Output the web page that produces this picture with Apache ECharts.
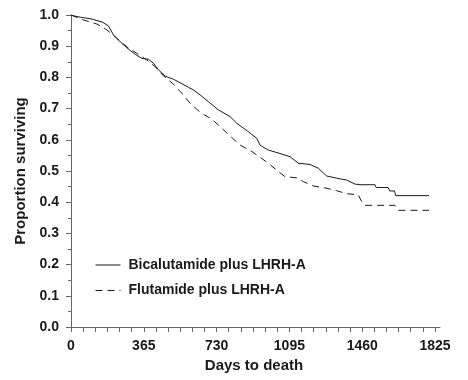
<!DOCTYPE html>
<html><head><meta charset="utf-8">
<script src="https://cdn.jsdelivr.net/npm/echarts@6/dist/echarts.min.js"></script>
<style>html,body{margin:0;padding:0;background:#fff}#c{width:468px;height:380px}</style>
</head><body><div id="c"></div>
<script>
const seriesNames = ['Bicalutamide plus LHRH-A', 'Flutamide plus LHRH-A'];
const bicalutamide = [[0,1.0],[15,0.997],[46,0.993],[105,0.987],[130,0.982],[155,0.978],[188,0.965],[213,0.936],[247,0.914],[280,0.895],[322,0.874],[355,0.861],[389,0.858],[414,0.845],[439,0.824],[472,0.804],[514,0.794],[547,0.783],[589,0.768],[614,0.760],[647,0.744],[689,0.722],[739,0.696],[798,0.674],[831,0.653],[889,0.626],[931,0.605],[948,0.583],[973,0.573],[990,0.567],[1048,0.556],[1098,0.546],[1140,0.525],[1198,0.521],[1240,0.509],[1282,0.484],[1332,0.477],[1382,0.471],[1424,0.458],[1449,0.456],[1524,0.456],[1530,0.447],[1590,0.447],[1598,0.436],[1622,0.436],[1628,0.421],[1795,0.421]];
const flutamide = [[0,1.0],[5,0.995],[63,0.984],[130,0.971],[180,0.952],[230,0.925],[280,0.898],[330,0.877],[380,0.856],[422,0.834],[464,0.805],[514,0.778],[556,0.749],[597,0.717],[650,0.687],[706,0.666],[748,0.642],[798,0.612],[848,0.583],[898,0.566],[939,0.548],[989,0.525],[1040,0.498],[1073,0.482],[1132,0.478],[1165,0.466],[1215,0.452],[1273,0.446],[1332,0.437],[1382,0.427],[1440,0.424],[1457,0.402],[1474,0.39],[1624,0.39],[1640,0.374],[1795,0.374]];
const xLabels = [0, 365, 730, 1095, 1460, 1825];
const xTicks = [0,1,2,3,4,5,6,7,8,9,10,11,12,13,14,15,16,17,18,19,20,21,22,23,24,25,26,27,28,29,30].map(i => i * 365 / 6);

const font = 'Liberation Sans, Arial, Helvetica, sans-serif';
const chart = echarts.init(document.getElementById('c'), null, {renderer: 'canvas'});
chart.setOption({
  animation: false,
  grid: {left: 68, right: 28, top: 15, bottom: 53},
  legend: {
    orient: 'vertical', left: 95, top: 258, padding: 0,
    itemWidth: 25, itemHeight: 14, itemGap: 11.5,
    itemStyle: {color: 'transparent', borderColor: 'transparent', borderWidth: 0, opacity: 0},
    lineStyle: {width: 1},
    textStyle: {fontFamily: font, fontWeight: 'bold', fontSize: 14, color: '#1a1a1a', padding: [0,0,0,3]},
    data: seriesNames
  },
  xAxis: {
    type: 'value', min: -15, max: 1850,
    name: 'Days to death', nameLocation: 'middle', nameGap: 30,
    nameTextStyle: {fontFamily: font, fontWeight: 'bold', fontSize: 15, color: '#1a1a1a'},
    axisLine: {lineStyle: {color: '#666', width: 1}},
    axisTick: {show: true, length: 5, customValues: xTicks, lineStyle: {color: '#666'}},
    axisLabel: {customValues: xLabels, formatter: v => String(Math.round(v)), margin: 12, fontFamily: font, fontWeight: 'bold', fontSize: 14, color: '#1a1a1a'},
    splitLine: {show: false}
  },
  yAxis: {
    type: 'value', min: 0, max: 1, interval: 0.1,
    name: 'Proportion surviving', nameLocation: 'middle', nameGap: 36,
    nameTextStyle: {fontFamily: font, fontWeight: 'bold', fontSize: 15, color: '#1a1a1a'},
    axisLine: {show: true, lineStyle: {color: '#666', width: 1}},
    axisTick: {show: true, length: 5, lineStyle: {color: '#666'}},
    minorTick: {show: true, splitNumber: 2, length: 3, lineStyle: {color: '#666'}},
    axisLabel: {margin: 9, formatter: v => v.toFixed(1), fontFamily: font, fontWeight: 'bold', fontSize: 14, color: '#1a1a1a'},
    splitLine: {show: false}
  },
  series: [
    {name: seriesNames[0], type: 'line', data: bicalutamide, symbol: 'none',
     lineStyle: {color: '#1a1a1a', width: 1}, itemStyle: {color: '#1a1a1a'}},
    {name: seriesNames[1], type: 'line', data: flutamide, symbol: 'none',
     lineStyle: {color: '#1a1a1a', width: 1, type: [7, 5]}, itemStyle: {color: '#1a1a1a'}}
  ]
});
</script></body></html>
